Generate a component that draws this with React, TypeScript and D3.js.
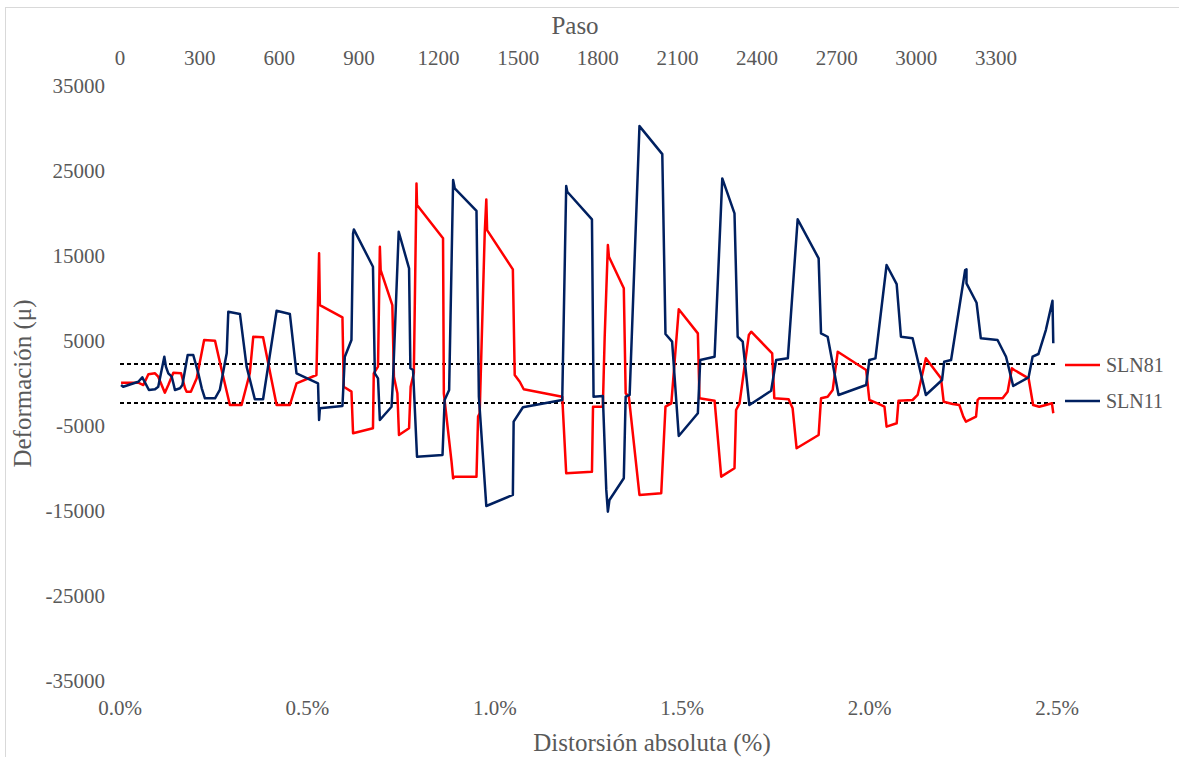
import React from "react";
import * as d3 from "d3";

// ---- Data (x = Paso / step, y = deformación in µ) ----
const SLN81: [number, number][] = [
  [4,100],[69,100],[88,-180],[107,1080],[132,1200],[144,800],[169,-1080],[182,-180],[201,1270],[230,1200],
  [245,-560],[251,-960],[267,-960],[289,610],[317,5120],[358,5030],[383,1590],[414,-2530],[458,-2530],[489,1200],
  [502,5500],[539,5430],[571,410],[590,-2530],[640,-2530],[665,20],[740,1000],[750,15310],[753,9230],[838,7790],
  [843,-380],[872,-960],[878,-5860],[953,-5270],[956,1200],[972,1980],[979,16090],[982,13350],[1026,9230],[1032,800],
  [1045,-1150],[1051,-6060],[1089,-5270],[1095,-380],[1107,1240],[1117,23540],[1119,20990],[1217,17080],[1220,-1150],[1249,-9200],
  [1255,-11150],[1261,-10960],[1343,-10960],[1349,-3900],[1355,-3500],[1374,17660],[1380,21660],[1383,18050],[1480,13430],[1487,1000],
  [1506,210],[1521,-680],[1666,-1550],[1681,-10560],[1778,-10370],[1782,-2730],[1819,-2730],[1826,5500],[1838,16290],[1842,14910],
  [1898,11200],[1905,-1150],[1917,-1550],[1957,-13110],[2039,-12910],[2055,-2730],[2077,-2330],[2089,2380],[2105,8730],[2177,5900],
  [2183,-1740],[2240,-2020],[2265,-10960],[2315,-9970],[2321,-3120],[2334,-2330],[2369,5700],[2378,6090],[2457,3550],[2465,-1740],
  [2519,-1860],[2534,-2920],[2549,-7620],[2632,-6060],[2641,-1740],[2666,-1550],[2685,-760],[2704,3740],[2811,1590],[2823,-1940],
  [2854,-2330],[2880,-2730],[2888,-5080],[2926,-4680],[2933,-2020],[2986,-1940],[3005,-1350],[3036,2960],[3093,610],[3103,-2140],
  [3137,-2410],[3162,-2530],[3177,-3900],[3187,-4490],[3225,-3900],[3231,-1940],[3237,-1740],[3325,-1740],[3344,-960],[3360,1790],
  [3369,1590],[3423,610],[3440,-2530],[3463,-2730],[3488,-2530],[3511,-2330],[3516,-3500],
];

const SLN11: [number, number][] = [
  [4,-180],[12,-380],[69,210],[84,730],[109,-760],[132,-680],[144,-380],[167,3150],[173,1980],[182,1200],
  [195,800],[201,20],[207,-760],[226,-560],[235,-180],[245,1590],[255,3350],[276,3350],[295,1200],[308,-560],
  [320,-1740],[358,-1740],[376,-760],[402,3550],[408,8440],[452,8170],[477,1980],[508,-1860],[539,-1860],[590,8560],
  [640,8170],[665,1200],[746,20],[750,-4290],[753,-2920],[838,-2650],[847,3150],[872,5120],[878,17660],[881,18130],
  [953,13740],[960,1200],[972,610],[979,-4290],[1023,-2730],[1029,800],[1050,17850],[1089,13550],[1094,1790],[1104,1590],
  [1119,-8610],[1215,-8410],[1223,-1940],[1240,-760],[1255,23930],[1261,22960],[1343,20320],[1352,-1550],[1380,-14410],[1480,-13110],
  [1483,-4490],[1518,-2800],[1666,-1940],[1681,23230],[1685,22560],[1778,19310],[1784,-1550],[1819,-1470],[1832,-12520],[1838,-15080],
  [1844,-13700],[1898,-11150],[1905,-1550],[1920,-1350],[1957,30280],[2043,26990],[2055,5820],[2080,4920],[2105,-6170],[2177,-3500],
  [2186,2760],[2240,3150],[2269,24130],[2315,20020],[2327,5500],[2346,4920],[2371,-2530],[2453,-850],[2472,2760],[2516,2960],
  [2553,19310],[2632,14720],[2641,5900],[2666,5500],[2707,-1350],[2811,-180],[2823,2760],[2846,2960],[2888,13940],[2926,11700],
  [2942,5500],[2986,5320],[3036,-1350],[3097,410],[3105,2560],[3131,2760],[3184,13350],[3189,13430],[3189,11780],[3227,9500],
  [3243,5320],[3306,5120],[3338,3150],[3365,-290],[3423,730],[3438,3150],[3460,3470],[3488,6290],[3513,9740],[3516,4730],
];

const yieldLevels = [2300, -2300];
const stepTicks = [0, 300, 600, 900, 1200, 1500, 1800, 2100, 2400, 2700, 3000, 3300];
const pctTicks = [0, 0.5, 1.0, 1.5, 2.0, 2.5];
const yTicks = [35000, 25000, 15000, 5000, -5000, -15000, -25000, -35000];
const stepMax = 3530;

const series = [
  { name: "SLN81", data: SLN81, color: "#FF0000" },
  { name: "SLN11", data: SLN11, color: "#002060" },
];

const W = 1179, H = 757;
const L = 120, R = 1057, T = 86, B = 681;
const FONT = "'Liberation Serif', 'Times New Roman', serif";
const TXT = "#595959";

export default function App() {
  const xStep = d3.scaleLinear().domain([0, stepMax]).range([L, R]);
  const xPct = d3.scaleLinear().domain([0, 2.5]).range([L, R]);
  const y = d3.scaleLinear().domain([-35000, 35000]).range([B, T]);
  const line = d3.line<[number, number]>().x(d => xStep(d[0])).y(d => y(d[1]));

  return (
    <svg width={W} height={H} style={{ position: "absolute", left: 0, top: 0, background: "#fff" }} fontFamily={FONT}>
      <rect x={5.5} y={7.5} width={1190} height={770} fill="#fff" stroke="#d9d9d9" strokeWidth={1} />
      {/* top axis */}
      <text x={575} y={25} fill={TXT} fontSize={25} textAnchor="middle" dominantBaseline="central">Paso</text>
      {stepTicks.map(t => (
        <text key={"s" + t} x={xStep(t)} y={58} fill={TXT} fontSize={21} textAnchor="middle" dominantBaseline="central">{t}</text>
      ))}
      {/* y axis */}
      {yTicks.map(t => (
        <text key={"y" + t} x={105} y={y(t)} fill={TXT} fontSize={21} textAnchor="end" dominantBaseline="central">{t}</text>
      ))}
      <text transform={`translate(22,${(T + B) / 2}) rotate(-90)`} fill={TXT} fontSize={25} textAnchor="middle" dominantBaseline="central">Deformación (μ)</text>
      {/* bottom axis */}
      {pctTicks.map(t => (
        <text key={"p" + t} x={xPct(t)} y={708} fill={TXT} fontSize={21} textAnchor="middle" dominantBaseline="central">{t.toFixed(1) + "%"}</text>
      ))}
      <text x={652} y={742} fill={TXT} fontSize={25} textAnchor="middle" dominantBaseline="central">Distorsión absoluta (%)</text>
      {/* dashed yield lines */}
      {yieldLevels.map(v => (
        <line key={"d" + v} x1={xStep(0)} x2={xStep(stepMax)} y1={y(v)} y2={y(v)} stroke="#000" strokeWidth={2} strokeDasharray="4,3" />
      ))}
      {/* series */}
      {series.map(s => (
        <path key={s.name} d={line(s.data) || ""} fill="none" stroke={s.color} strokeWidth={2.5} strokeLinejoin="round" />
      ))}
      {/* legend */}
      {series.map((s, i) => (
        <g key={"lg" + s.name}>
          <line x1={1065} x2={1100} y1={365 + i * 36} y2={365 + i * 36} stroke={s.color} strokeWidth={2.5} />
          <text x={1106} y={365 + i * 36} fill={TXT} fontSize={20} dominantBaseline="central">{s.name}</text>
        </g>
      ))}
    </svg>
  );
}
